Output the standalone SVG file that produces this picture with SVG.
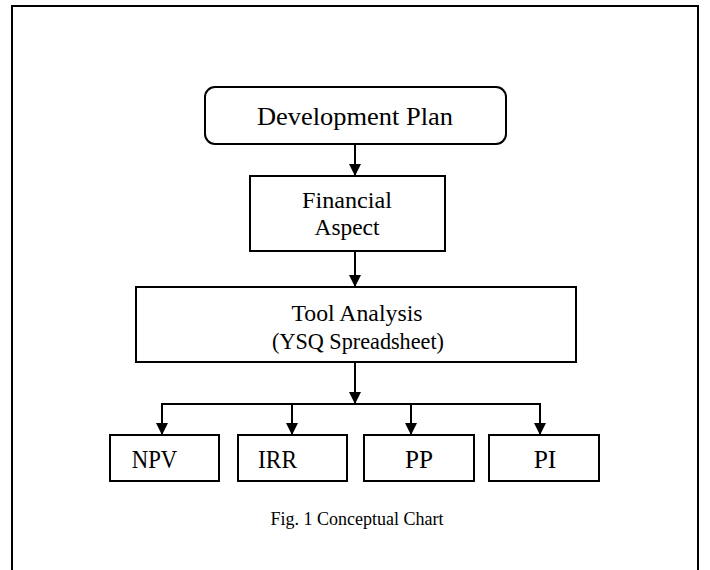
<svg xmlns="http://www.w3.org/2000/svg" width="710" height="570" viewBox="0 0 710 570">
<style>
.box{fill:#fff;stroke:#000;stroke-width:2}
.t{font-family:"Liberation Serif","Times New Roman",serif;fill:#000;text-anchor:middle}
.ln{fill:none;stroke:#000;stroke-width:2}
</style>
<defs>
<marker id="ah" markerWidth="12" markerHeight="14" refX="12" refY="7" orient="auto" markerUnits="userSpaceOnUse">
<path d="M0,1 L12,7 L0,13 Z" fill="#000"/>
</marker>
</defs>
<rect x="0" y="0" width="710" height="570" fill="#fff"/>
<path d="M12,580 V6 H698 V580" class="ln" stroke-width="2.5"/>
<g id="dev"><rect x="205" y="87" width="301" height="57" rx="10" class="box"/><text x="355" y="125" class="t" font-size="26" textLength="196" lengthAdjust="spacingAndGlyphs">Development Plan</text></g>
<g id="fin"><rect x="250" y="176" width="195" height="75" class="box"/><text x="347" y="208" class="t" font-size="23" textLength="90" lengthAdjust="spacingAndGlyphs">Financial</text><text x="347" y="235" class="t" font-size="23" textLength="65" lengthAdjust="spacingAndGlyphs">Aspect</text></g>
<g id="tool"><rect x="136" y="287" width="440" height="75" class="box"/><text x="357" y="321" class="t" font-size="23" textLength="131" lengthAdjust="spacingAndGlyphs">Tool Analysis</text><text x="358" y="349" class="t" font-size="23" textLength="172" lengthAdjust="spacingAndGlyphs">(YSQ Spreadsheet)</text></g>
<g id="npv"><rect x="110" y="435" width="109" height="46" class="box"/><text x="154.5" y="468" class="t" font-size="25" textLength="45.5" lengthAdjust="spacingAndGlyphs">NPV</text></g>
<g id="irr"><rect x="238" y="435" width="109" height="46" class="box"/><text x="277.5" y="468" class="t" font-size="25" textLength="39" lengthAdjust="spacingAndGlyphs">IRR</text></g>
<g id="pp"><rect x="364" y="435" width="110" height="46" class="box"/><text x="419" y="468" class="t" font-size="25" textLength="28" lengthAdjust="spacingAndGlyphs">PP</text></g>
<g id="pi"><rect x="489" y="435" width="110" height="46" class="box"/><text x="545" y="468" class="t" font-size="25" textLength="22.7" lengthAdjust="spacingAndGlyphs">PI</text></g>
<g id="connectors">
<line x1="355" y1="144" x2="355" y2="176" class="ln" marker-end="url(#ah)"/>
<line x1="355" y1="251" x2="355" y2="287" class="ln" marker-end="url(#ah)"/>
<line x1="355" y1="362" x2="355" y2="404" class="ln" marker-end="url(#ah)"/>
<path d="M162,404 H540" class="ln"/>
<line x1="162" y1="403" x2="162" y2="435" class="ln" marker-end="url(#ah)"/>
<line x1="292" y1="403" x2="292" y2="435" class="ln" marker-end="url(#ah)"/>
<line x1="411" y1="403" x2="411" y2="435" class="ln" marker-end="url(#ah)"/>
<line x1="540" y1="403" x2="540" y2="435" class="ln" marker-end="url(#ah)"/>
</g>
<text x="357" y="525" class="t" font-size="18">Fig. 1 Conceptual Chart</text>
</svg>
